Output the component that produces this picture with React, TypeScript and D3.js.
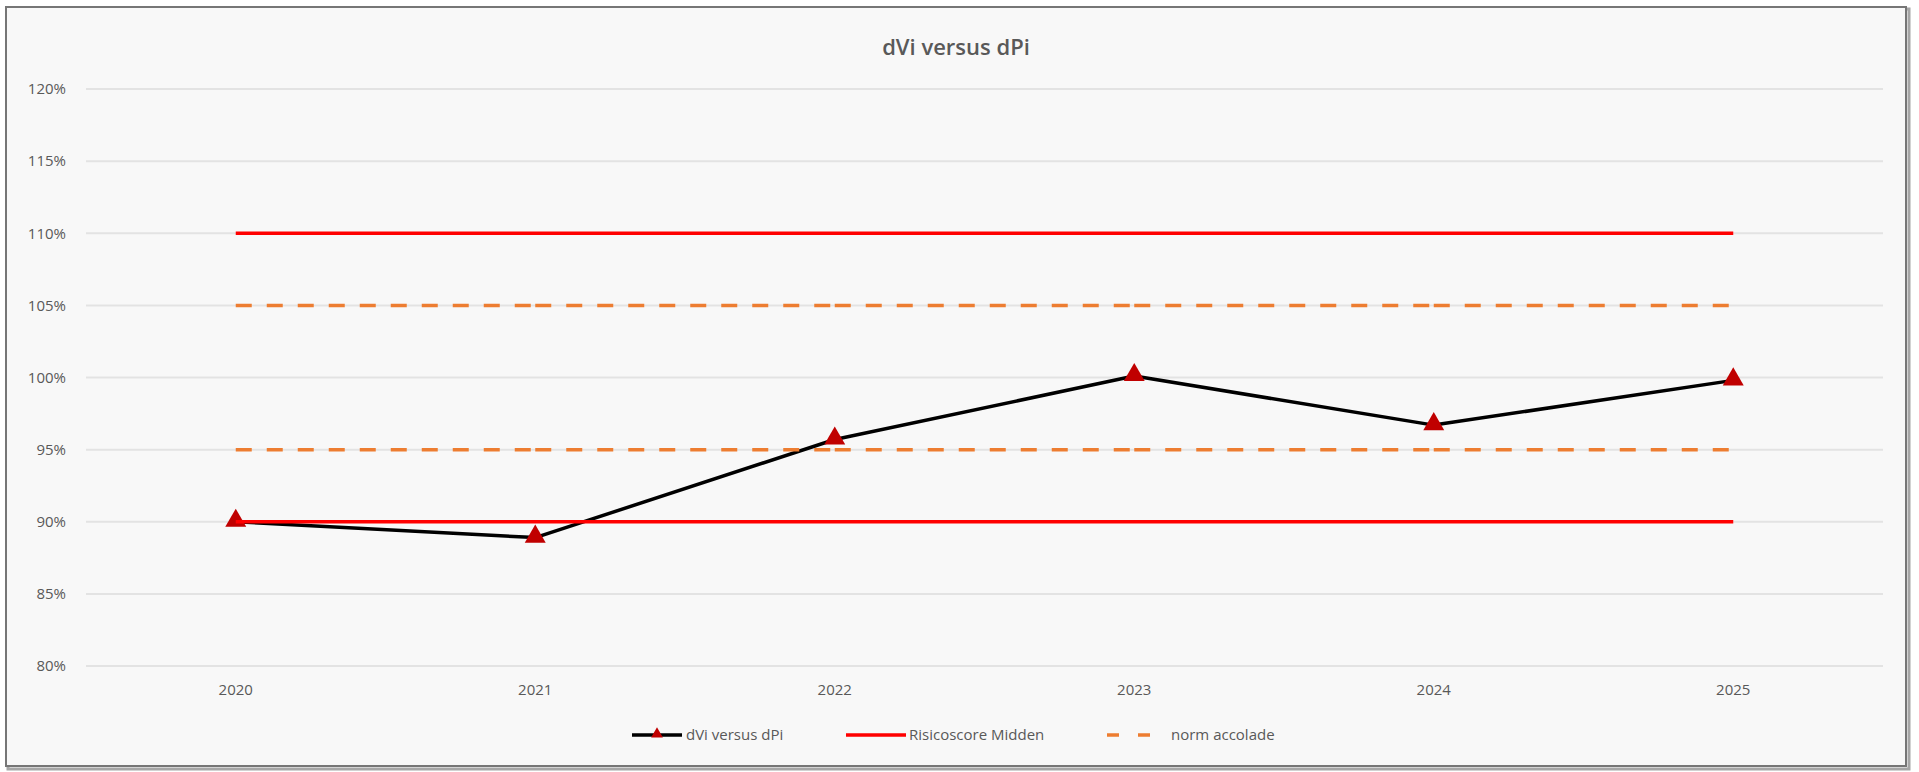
import React, { useEffect, useRef } from 'react';
import * as d3 from 'd3';

// chart data
const years = ['2020', '2021', '2022', '2023', '2024', '2025'];
const dviValues = [0.9, 0.889, 0.957, 1.001, 0.967, 0.998];
const risicoUpper = [1.1, 1.1, 1.1, 1.1, 1.1, 1.1];
const risicoLower = [0.9, 0.9, 0.9, 0.9, 0.9, 0.9];
const normUpper = [1.05, 1.05, 1.05, 1.05, 1.05, 1.05];
const normLower = [0.95, 0.95, 0.95, 0.95, 0.95, 0.95];
const yTicks = [0.8, 0.85, 0.9, 0.95, 1.0, 1.05, 1.1, 1.15, 1.2];

const W = 1919;
const H = 772;
const FONT = '"Open Sans", "Liberation Sans", sans-serif';
const TEXT = '#595959';

const App: React.FC = () => {
  const svgRef = useRef<SVGSVGElement>(null);

  useEffect(() => {
    document.body.style.margin = '0';
    if (!svgRef.current) return;
    const svg = d3.select(svgRef.current);
    svg.selectAll('*').remove();

    svg.append('rect').attr('width', W).attr('height', H).attr('fill', '#ffffff');

    // frame with a little shadow
    svg.append('rect')
      .attr('x', 8).attr('y', 9).attr('width', 1901).attr('height', 760)
      .attr('fill', 'none').attr('stroke', '#a6a6a6').attr('stroke-width', 3);
    svg.append('rect')
      .attr('x', 6).attr('y', 7).attr('width', 1900).attr('height', 759)
      .attr('fill', '#f8f8f8').attr('stroke', '#767676').attr('stroke-width', 2);

    const x = d3.scalePoint<string>().domain(years).range([86, 1883]).padding(0.5);
    const y = d3.scaleLinear().domain([0.8, 1.2]).range([666, 89]);

    // title
    svg.append('text')
      .attr('x', 956).attr('y', 55)
      .attr('text-anchor', 'middle')
      .attr('font-family', FONT).attr('font-size', 22).attr('font-weight', 600)
      .attr('fill', TEXT)
      .text('dVi versus dPi');

    // gridlines
    svg.append('g').selectAll('line').data(yTicks).enter().append('line')
      .attr('x1', 86).attr('x2', 1883)
      .attr('y1', d => y(d)).attr('y2', d => y(d))
      .attr('stroke', '#e3e3e3').attr('stroke-width', 2);

    // y axis labels
    svg.append('g').selectAll('text').data(yTicks).enter().append('text')
      .attr('x', 66).attr('y', d => y(d))
      .attr('dy', '0.35em')
      .attr('text-anchor', 'end')
      .attr('font-family', FONT).attr('font-size', 15)
      .attr('fill', TEXT)
      .text(d => d3.format('.0%')(d));

    // x axis labels
    svg.append('g').selectAll('text').data(years).enter().append('text')
      .attr('x', d => x(d) || 0).attr('y', 690)
      .attr('dy', '0.35em')
      .attr('text-anchor', 'middle')
      .attr('font-family', FONT).attr('font-size', 15)
      .attr('fill', TEXT)
      .text(d => d);

    const line = d3.line<number>()
      .x((_, i) => x(years[i]) || 0)
      .y(d => y(d));

    const triangle = d3.symbol().type(d3.symbolTriangle).size(190);

    // dVi series
    svg.append('path')
      .attr('d', line(dviValues) || '')
      .attr('fill', 'none').attr('stroke', '#000000').attr('stroke-width', 3.5)
      .attr('stroke-linejoin', 'round');
    svg.append('g').selectAll('path').data(dviValues).enter().append('path')
      .attr('d', triangle() || '')
      .attr('transform', (d, i) => `translate(${x(years[i])},${y(d) - 1})`)
      .attr('fill', '#c00000');

    // risicoscore lines
    [risicoUpper, risicoLower].forEach(vals => {
      svg.append('path')
        .attr('d', line(vals) || '')
        .attr('fill', 'none').attr('stroke', '#ff0000').attr('stroke-width', 3.5);
    });

    // norm lines, dashes restart at each category like the original
    [normUpper, normLower].forEach(vals => {
      for (let i = 0; i < vals.length - 1; i++) {
        svg.append('path')
          .attr('d', line.x((_, j) => x(years[i + j]) || 0)(vals.slice(i, i + 2)) || '')
          .attr('fill', 'none').attr('stroke', '#ed7d31').attr('stroke-width', 3.5)
          .attr('stroke-dasharray', '16,15');
      }
      line.x((_, i) => x(years[i]) || 0);
    });

    // legend
    const ly = 735;
    const legend = svg.append('g').attr('font-family', FONT).attr('font-size', 15).attr('fill', TEXT);
    legend.append('line').attr('x1', 632).attr('x2', 682).attr('y1', ly).attr('y2', ly)
      .attr('stroke', '#000000').attr('stroke-width', 3.5);
    legend.append('path').attr('d', d3.symbol().type(d3.symbolTriangle).size(60)() || '')
      .attr('transform', `translate(657,${ly - 1})`).attr('fill', '#c00000');
    legend.append('text').attr('x', 686).attr('y', ly).attr('dy', '0.35em').text('dVi versus dPi');

    legend.append('line').attr('x1', 846).attr('x2', 906).attr('y1', ly).attr('y2', ly)
      .attr('stroke', '#ff0000').attr('stroke-width', 3.5);
    legend.append('text').attr('x', 909).attr('y', ly).attr('dy', '0.35em').text('Risicoscore Midden');

    legend.append('line').attr('x1', 1107).attr('x2', 1157).attr('y1', ly).attr('y2', ly)
      .attr('stroke', '#ed7d31').attr('stroke-width', 3.5).attr('stroke-dasharray', '12,19');
    legend.append('text').attr('x', 1171).attr('y', ly).attr('dy', '0.35em').text('norm accolade');
  }, []);

  return <svg ref={svgRef} width={W} height={H} style={{ display: 'block' }} />;
};

export default App;
